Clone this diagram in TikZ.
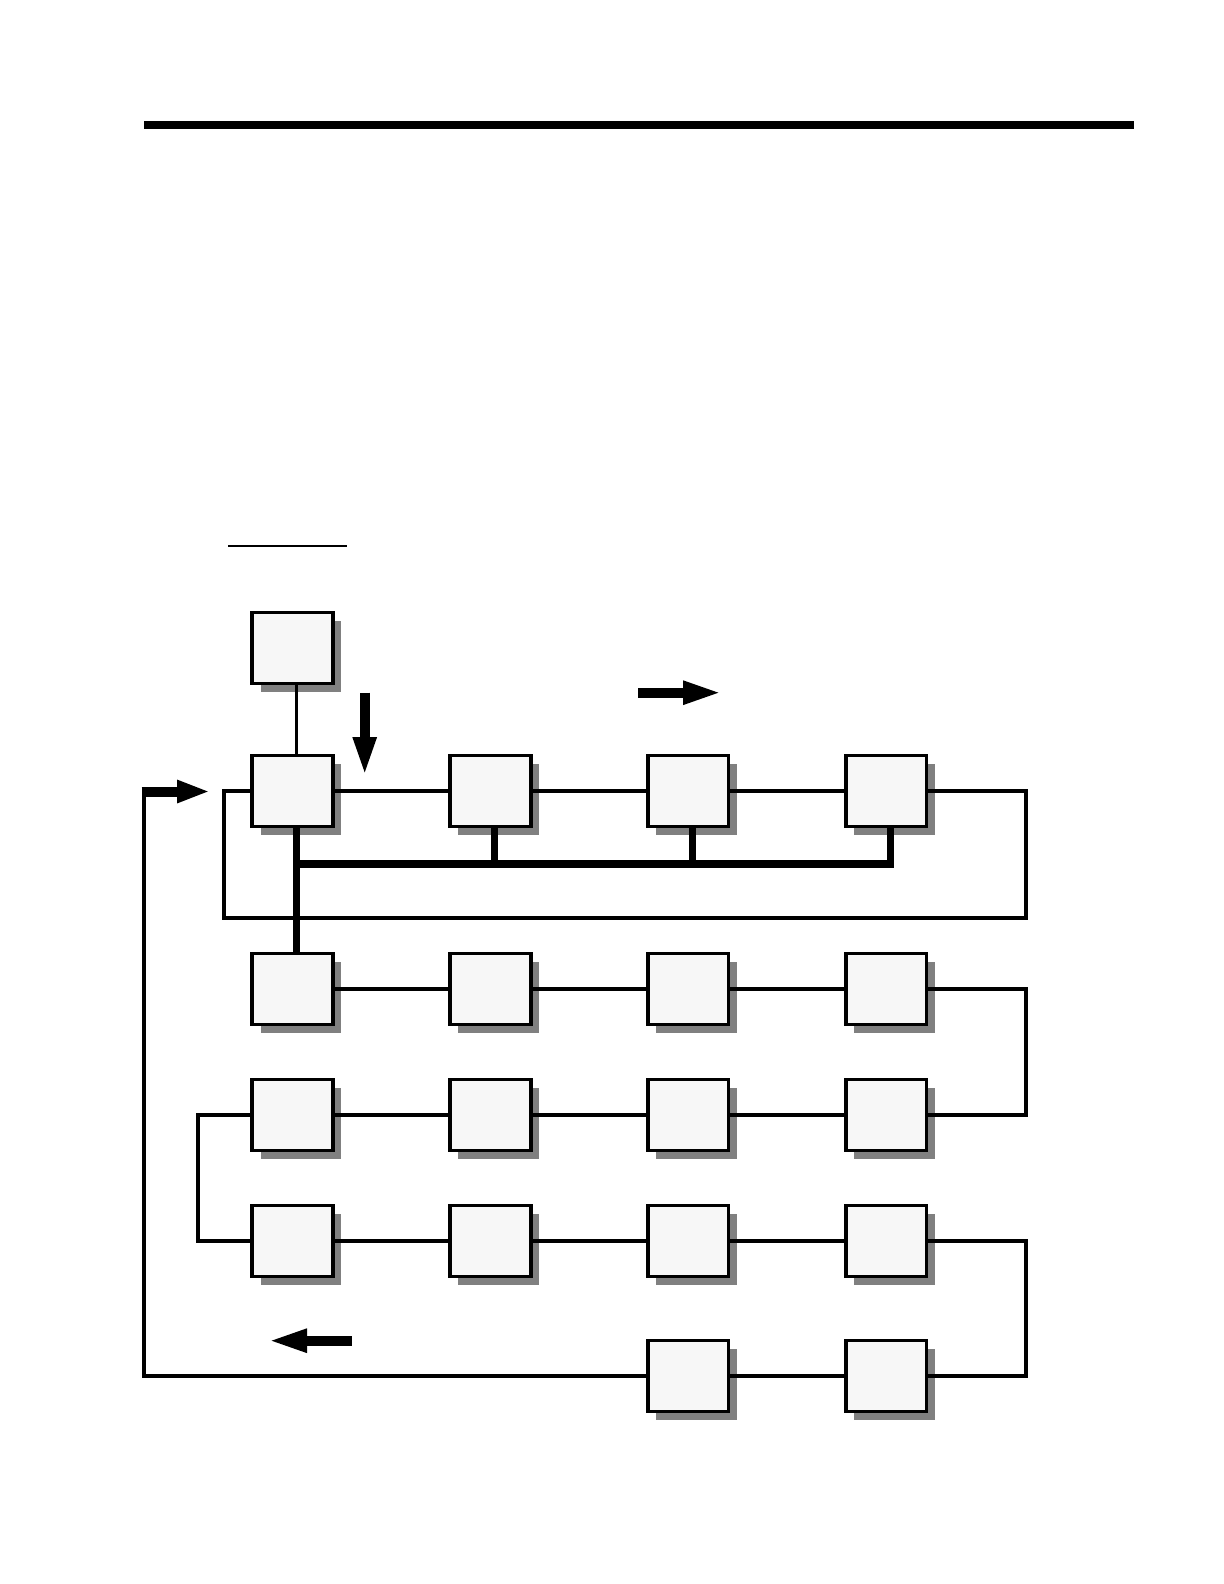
\documentclass[tikz,border=0pt]{standalone}
\usepackage{tikz}
\usepackage{xcolor}
\definecolor{boxfill}{RGB}{247, 247, 247}
\definecolor{shadowgray}{RGB}{128, 128, 128}
\usetikzlibrary{arrows.meta, shadows, positioning, calc}

\begin{document}
\begin{tikzpicture}[
    x=0.5pt, y=-0.5pt,
    unit/.style={draw=black, line width=1.8pt, fill=boxfill, minimum width=40.4pt, minimum height=35.6pt, inner sep=0pt, drop shadow={shadow xshift=4.2pt, shadow yshift=-4.2pt, fill=shadowgray, opacity=1}},
    link/.style={draw=black, line width=1.8pt},
    bus/.style={draw=black, line width=3.6pt},
    fat/.style={line width=5.2pt, -{Triangle[length=20pt, width=10.5pt]}},
    fatshort/.style={line width=5pt, -{Triangle[length=16.5pt, width=10.5pt]}}
]
\useasboundingbox (0,0) rectangle (1224,1584);

% Title rules
\draw[line width=3.8pt] (144,125) -- (1134,125);
\draw[line width=1.3pt] (228,546) -- (347,546);

% Source unit
\node[unit] (src) at (292.5,648) {};

% Row A
\node[unit] (a1) at (292.5,791) {};
\node[unit] (a2) at (490.3,791) {};
\node[unit] (a3) at (688.2,791) {};
\node[unit] (a4) at (886.2,791) {};

% Row B
\node[unit] (b1) at (292.5,989) {};
\node[unit] (b2) at (490.3,989) {};
\node[unit] (b3) at (688.2,989) {};
\node[unit] (b4) at (886.2,989) {};

% Row C
\node[unit] (c1) at (292.5,1115) {};
\node[unit] (c2) at (490.3,1115) {};
\node[unit] (c3) at (688.2,1115) {};
\node[unit] (c4) at (886.2,1115) {};

% Row D
\node[unit] (d1) at (292.5,1241) {};
\node[unit] (d2) at (490.3,1241) {};
\node[unit] (d3) at (688.2,1241) {};
\node[unit] (d4) at (886.2,1241) {};

% Row E
\node[unit] (e3) at (688.2,1376) {};
\node[unit] (e4) at (886.2,1376) {};

% Free ends of the flow arrows
\coordinate (downtop) at (364.7,692.7);
\coordinate (downtip) at (364.7,777);
\coordinate (righttop) at (638,692.7);
\coordinate (righttip) at (723,692.7);
\coordinate (backtail) at (351.7,1340.7);
\coordinate (backtip) at (267,1340.7);
\coordinate (intail) at (141.7,791.5);
\coordinate (intip) at (210,791.5);
\coordinate (busy) at (0,864);

% Connections
\draw[link] ([xshift=2pt]src.south) -- ([xshift=2pt]a1.north);
\draw[link] (a1) -- (a2) -- (a3) -- (a4);
\draw[link] (a4.east) -- (1026,791) -- (1026,918) -- (224,918) -- (224,791) -- (a1.west);
\draw[link] (b1) -- (b2) -- (b3) -- (b4);
\draw[link] (b4.east) -- (1026,989) -- (1026,1115) -- (c4.east);
\draw[link] (c4) -- (c3) -- (c2) -- (c1);
\draw[link] (c1.west) -- (198,1115) -- (198,1241) -- (d1.west);
\draw[link] (d1) -- (d2) -- (d3) -- (d4);
\draw[link] (d4.east) -- (1026,1241) -- (1026,1376) -- (e4.east);
\draw[link] (e4) -- (e3);
\draw[link] (e3.west) -- (144,1376) -- (144,790);

% Bus
\draw[bus] ([xshift=2pt]a1.south) -- ([xshift=2pt]b1.north);
\draw[bus] ([xshift=2pt]a1.south |- busy) -- ([xshift=2pt]a4.south |- busy) -- ([xshift=2pt]a4.south);
\draw[bus] ([xshift=2pt]a2.south) -- ([xshift=2pt]a2.south |- busy);
\draw[bus] ([xshift=2pt]a3.south) -- ([xshift=2pt]a3.south |- busy);

% Flow arrows
\draw[fat] (downtop) -- (downtip);
\draw[fat] (righttop) -- (righttip);
\draw[fat] (backtail) -- (backtip);
\draw[fatshort] (intail) -- (intip);

\end{tikzpicture}
\end{document}
